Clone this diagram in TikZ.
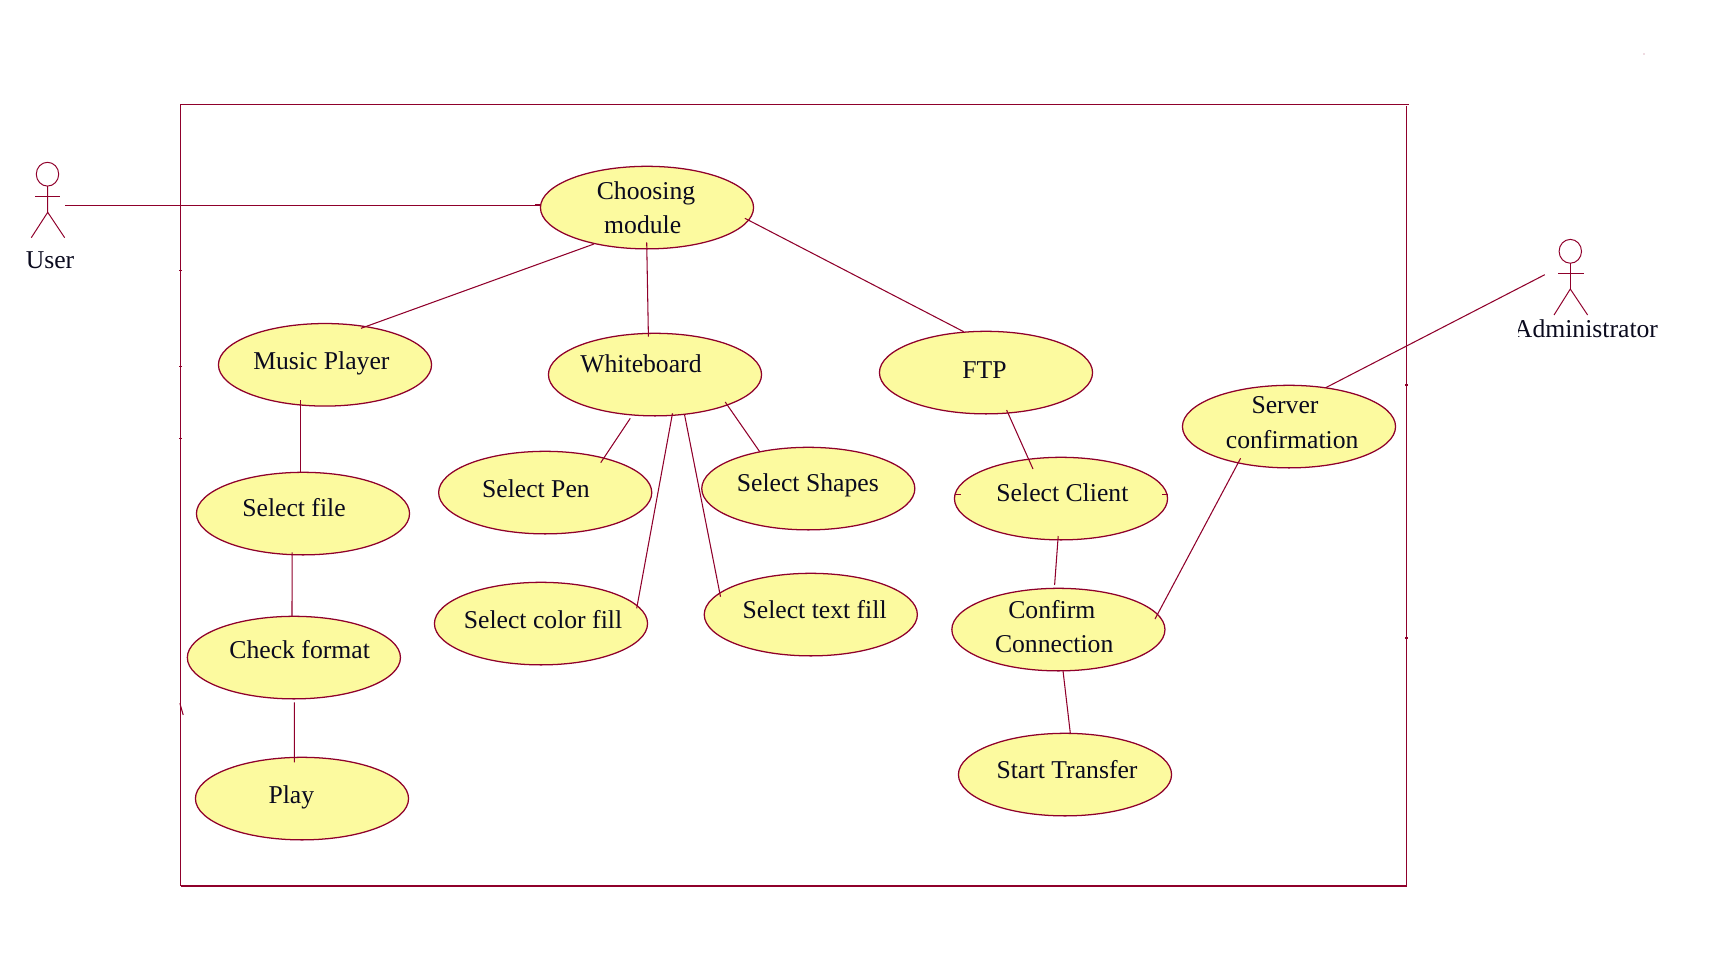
\documentclass[tikz,border=0pt]{standalone}
\usepackage{fontspec}
\setmainfont{Liberation Serif}
\usetikzlibrary{shapes.geometric}
\definecolor{rosered}{HTML}{8F002B}
\definecolor{rosefill}{HTML}{FCFA9F}
\definecolor{inkdark}{HTML}{0A0A1E}
\tikzset{
  uc/.style={shape=ellipse,draw=rosered,fill=rosefill,line width=0.36pt,minimum width=2.13cm,minimum height=0.825cm,inner sep=0pt,outer sep=0pt},
  lbl/.style={anchor=base,inner sep=0pt,outer sep=0pt,text=inkdark,font=\fontsize{7.3pt}{9pt}\selectfont},
  link/.style={draw=rosered,line width=0.3pt},
  thick link/.style={draw=rosered,line width=0.42pt},
  frame line/.style={draw=rosered,line width=0.3pt},
  actor/.style={draw=rosered,line width=0.28pt},
  head/.style={shape=ellipse,draw=rosered,line width=0.28pt,minimum width=0.224cm,minimum height=0.238cm,inner sep=0pt,outer sep=0pt}
}
\newcommand{\off}[3]{([shift={(#2,#3)}]#1.center)}
\begin{document}
\begin{tikzpicture}[x=0.01cm,y=-0.01cm]
\useasboundingbox (0,0) rectangle (1721,973);
% system frame
\draw[frame line,line width=0.42pt] (180.5,104.3) -- (1408.5,104.3);
\draw[frame line] (180.5,104.3) -- (180.5,885.8);
\draw[frame line,line width=0.42pt] (180.5,885.8) -- (1406.5,885.8);
\draw[frame line] (1406.5,106) -- (1406.5,885.8);
\draw[frame line] (179,270.3) -- (182,270.3) (179,366.3) -- (182,366.3) (179,438.3) -- (182,438.3);
\draw[frame line] (179.9,703.3) -- (183.2,715);
\draw[frame line] (1405,385) -- (1408,385) (1405,638) -- (1408,638);
\fill[rosered!60] (1644,54) circle (0.6);
% use cases
\node[uc] (choose) at (647,207.6) {};
\node[uc] (music) at (325,364.8) {};
\node[uc] (white) at (655,374.6) {};
\node[uc] (ftp) at (986,372.6) {};
\node[uc] (server) at (1289,426.6) {};
\node[uc] (file) at (303,513.6) {};
\node[uc] (pen) at (545.2,492.6) {};
\node[uc] (shapes) at (808.3,488.6) {};
\node[uc] (client) at (1061,498.6) {};
\node[uc] (color) at (541,623.6) {};
\node[uc] (textfill) at (810.8,614.6) {};
\node[uc] (check) at (293.9,657.6) {};
\node[uc] (confirm) at (1058.4,629.6) {};
\node[uc] (start) at (1065,774.6) {};
\node[uc] (play) at (302,798.6) {};
% labels
\node[lbl] (t1) at (646,199.3) {Choosing};
\node[lbl] (t2) at (642.7,233.7) {module};
\node[lbl] (t3) at (321.4,369.3) {Music Player};
\node[lbl] (t4) at (641,373) {Whiteboard};
\node[lbl] (t5) at (984.4,378.3) {FTP};
\node[lbl] (t6) at (1285,413.7) {Server};
\node[lbl] (t7) at (1292.2,448.2) {confirmation};
\node[lbl] (t8) at (294,516.7) {Select file};
\node[lbl] (t9) at (535.9,497.7) {Select Pen};
\node[lbl] (t10) at (807.8,491.7) {Select Shapes};
\node[lbl] (t11) at (1062.4,501.7) {Select Client};
\node[lbl] (t12) at (543,628.5) {Select color fill};
\node[lbl] (t13) at (814.6,618.7) {Select text fill};
\node[lbl] (t14) at (299.7,658.7) {Check format};
\node[lbl] (t15) at (1051.8,618.5) {Confirm};
\node[lbl] (t16) at (1054.2,652.2) {Connection};
\node[lbl] (t17) at (1067,778.3) {Start Transfer};
\node[lbl] (t18) at (291.4,803.3) {Play};
% actors
\node[head] (userhead) at (47.5,174.2) {};
\coordinate (userhip) at (47.7,212.3);
\draw[actor] (userhead.south) -- (userhip);
\draw[actor] (userhip) -- (31.3,237.7) (userhip) -- (64.7,237.7);
\draw[actor,line width=0.36pt] (35.1,196.3) -- (60.3,196.3);
\coordinate (userhand) at (65.3,205.3);
\node[lbl] (usertxt) at (50,268.5) {User};
\node[head] (adminhead) at (1570.3,251.3) {};
\coordinate (adminhip) at (1570.3,289);
\draw[actor] (adminhead.south) -- (adminhip);
\draw[actor] (adminhip) -- (1554,315) (adminhip) -- (1587.6,315);
\draw[actor,line width=0.36pt] (1558,273.3) -- (1583.8,273.3);
\coordinate (adminhand) at (1544.8,274.7);
\begin{scope}
\clip (1518,300) rectangle (1680,350);
\node[lbl,anchor=base east] (admintxt) at (1658,337.5) {Administrator};
\end{scope}
% connectors
\draw[thick link] (userhand) -- (choose.west |- userhand);
\fill[rosered] (535,204.2) rectangle (541,206.2);
\draw[link] \off{choose}{-53}{36.4} -- \off{music}{36}{-36.5};
\draw[link] \off{choose}{-0.3}{34.7} -- \off{white}{-6.6}{-37.9};
\draw[link] \off{choose}{97.9}{10.7} -- \off{ftp}{-22.3}{-40.9};
\draw[link] \off{music}{-24.4}{35.2} -- \off{file}{-2.4}{-41.3};
\draw[link] \off{white}{-24.7}{43.7} -- \off{pen}{55.5}{-29.9};
\draw[link] \off{white}{70.2}{27.4} -- \off{shapes}{-48.6}{-36.9};
\draw[link] \off{white}{17.5}{38.7} -- \off{color}{95.7}{-15.3};
\draw[link] \off{white}{29.6}{40.4} -- \off{textfill}{-90.3}{-17.9};
\draw[link] \off{file}{-10.9}{38.7} -- \off{check}{-1.9}{-41.3};
\draw[link] \off{check}{0.4}{44.7} -- \off{play}{-7.7}{-36.3};
\draw[link] \off{ftp}{20.6}{37.4} -- \off{client}{-28}{-29.6};
\draw[link] \off{client}{-2.8}{37.4} -- \off{confirm}{-3.8}{-44.6};
\draw[link] \off{confirm}{4.6}{41.1} -- \off{start}{5.4}{-40.6};
\draw[link] \off{confirm}{96.6}{-10.6} -- \off{server}{-48.4}{31.7};
\draw[link] \off{server}{36.7}{-38.9} -- (adminhand);
% small marks on the Select Client ellipse
\draw[link] (954.5,494.3) -- (961,494.3) (1162,494.3) -- (1167.5,494.3);
\end{tikzpicture}
\end{document}
